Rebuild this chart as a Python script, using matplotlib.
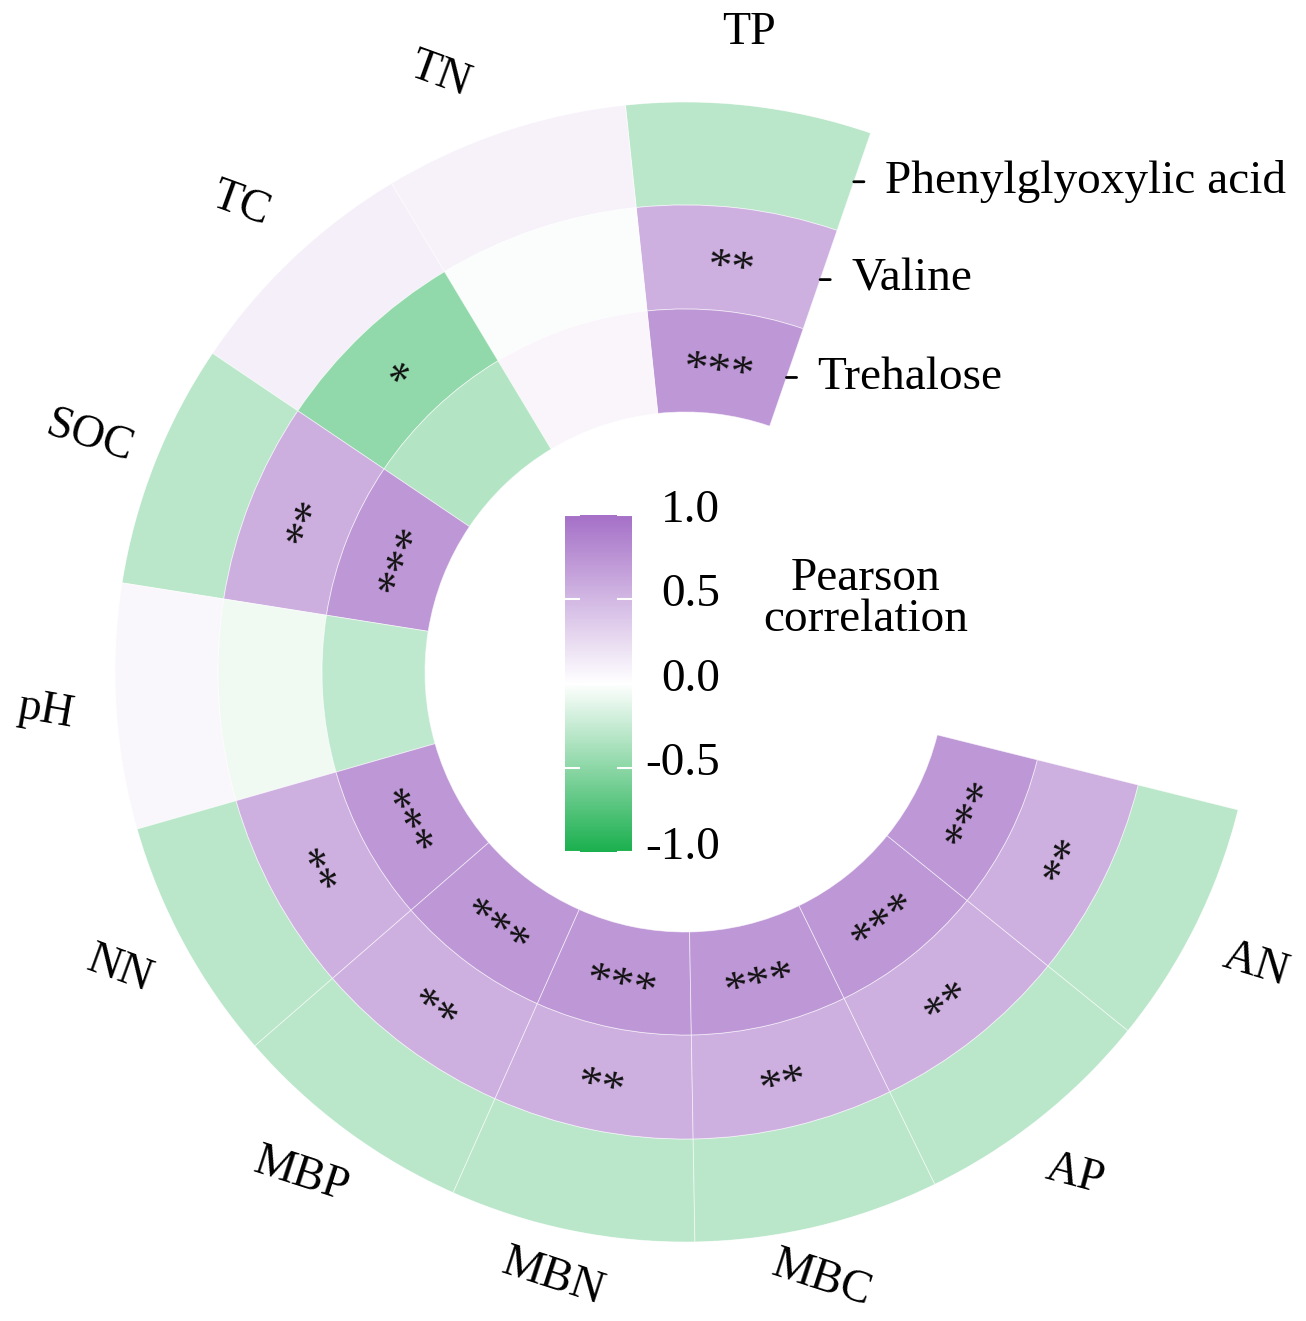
import numpy as np
import matplotlib
matplotlib.use("Agg")
import matplotlib.pyplot as plt
from matplotlib.colors import LinearSegmentedColormap, Normalize
from matplotlib.cm import ScalarMappable
from matplotlib.transforms import ScaledTranslation, blended_transform_factory

plt.rcParams['font.family'] = ['Liberation Serif', 'DejaVu Serif']

# soil properties around the ring, starting at the top and running counter-clockwise
factors = ['TP', 'TN', 'TC', 'SOC', 'pH', 'NN', 'MBP', 'MBN', 'MBC', 'AP', 'AN']
label_rot = [0, -20, -20, -18, -10, -20, -18, -18, -18, -15, -17]
label_r = [642, 645, 645, 640, 641, 639, 633, 620, 622, 636, 641]
label_shift = [0.8, 3.8, 0, 0, 0, -0.7, -0.8, -0.8, -0.8, -0.7, -0.7]

# metabolites, outer ring -> inner ring
metabolites = ['Phenylglyoxylic acid', 'Valine', 'Trehalose']

r_phenyl = [-0.30, 0.09, 0.11, -0.30, 0.06, -0.30, -0.30, -0.30, -0.30, -0.30, -0.30]
r_valine = [0.56, -0.02, -0.48, 0.57, -0.07, 0.56, 0.56, 0.56, 0.56, 0.56, 0.56]
r_trehalose = [0.72, 0.07, -0.33, 0.72, -0.28, 0.72, 0.72, 0.72, 0.72, 0.72, 0.72]

sig_phenyl = [''] * 11
sig_valine = ['**', '', '*', '**', '', '**', '**', '**', '**', '**', '**']
sig_trehalose = ['***', '', '', '***', '', '***', '***', '***', '***', '***', '***']

rings = [(r_phenyl, sig_phenyl), (r_valine, sig_valine), (r_trehalose, sig_trehalose)]

cbar_ticks = [-1.0, -0.5, 0.0, 0.5, 1.0]

cmap = LinearSegmentedColormap.from_list('gwp', ['#1aaf4e', '#ffffff', '#a570c7'])
norm = Normalize(-1, 1)

W, H = 1306, 1321
fig = plt.figure(figsize=(W / 100, H / 100), dpi=100)

cx, cy, R = 685, 672, 570
ax = fig.add_axes([(cx - R) / W, (H - cy - R) / H, 2 * R / W, 2 * R / H], projection='polar')
ax.set_theta_zero_location('N')
ax.set_theta_direction(1)
ax.set_ylim(0, R)
ax.axis('off')

step = np.deg2rad(25)
theta = np.deg2rad(-6.5) + step * np.arange(len(factors))
edges = [570, 467, 363, 260]   # ring radii, outer to inner

for k, (vals, sigs) in enumerate(rings):
    top, bot = edges[k], edges[k + 1]
    ax.bar(theta, top - bot, width=step, bottom=bot, align='center',
           color=cmap(norm(np.array(vals))), edgecolor=(1, 1, 1, 0.6), linewidth=0.6)
    rmid = (top + bot) / 2
    for t, s in zip(theta, sigs):
        if not s:
            continue
        deg = np.rad2deg(t)
        rot = deg if deg <= 90 else deg - 180
        # nudge the asterisks down in their own frame so the glyphs sit centred
        a = np.deg2rad(rot)
        off = ScaledTranslation(8 / 72 * np.sin(a), -8 / 72 * np.cos(a), fig.dpi_scale_trans)
        ax.text(t, rmid, s, rotation=rot, rotation_mode='anchor', ha='center', va='center',
                fontsize=34, color='#111111', transform=ax.transData + off)

for t, name, rot, rl, sh in zip(theta, factors, label_rot, label_r, label_shift):
    ax.text(t + np.deg2rad(sh), rl, name, rotation=rot, rotation_mode='anchor',
            ha='center', va='center', fontsize=33, clip_on=False)

# metabolite names against the right-hand edge of the first sector
edge_t = theta[0] - step / 2
for k, name in enumerate(metabolites):
    rmid = (edges[k] + edges[k + 1]) / 2
    ax.annotate(name, xy=(edge_t, rmid), xytext=(31, 0), textcoords='offset pixels',
                ha='left', va='center', fontsize=34, annotation_clip=False,
                arrowprops=dict(arrowstyle='-', lw=2, color='black', relpos=(0, 0.5),
                                shrinkA=13, shrinkB=0))

cax = fig.add_axes([565 / W, (H - 852) / H, 67 / W, 337 / H])
cb = fig.colorbar(ScalarMappable(norm=norm, cmap=cmap), cax=cax)
cb.outline.set_visible(False)
cb.set_ticks(cbar_ticks)
cax.tick_params(direction='in', length=11, width=1.5, color='white', left=True, right=True,
                labelright=False)
lab_tr = blended_transform_factory(cax.transAxes, cax.transData) + \
    ScaledTranslation(0, 4 / 100, fig.dpi_scale_trans)
for v in cbar_ticks:
    cax.text(2.31, v, f'{v:.1f}', ha='right', va='center', fontsize=34, transform=lab_tr,
             clip_on=False)

fig.text(866 / W, 1 - 599 / H, 'Pearson\ncorrelation', ha='center', va='center',
         fontsize=34, linespacing=0.95)

fig.savefig('out.png', dpi=100)
